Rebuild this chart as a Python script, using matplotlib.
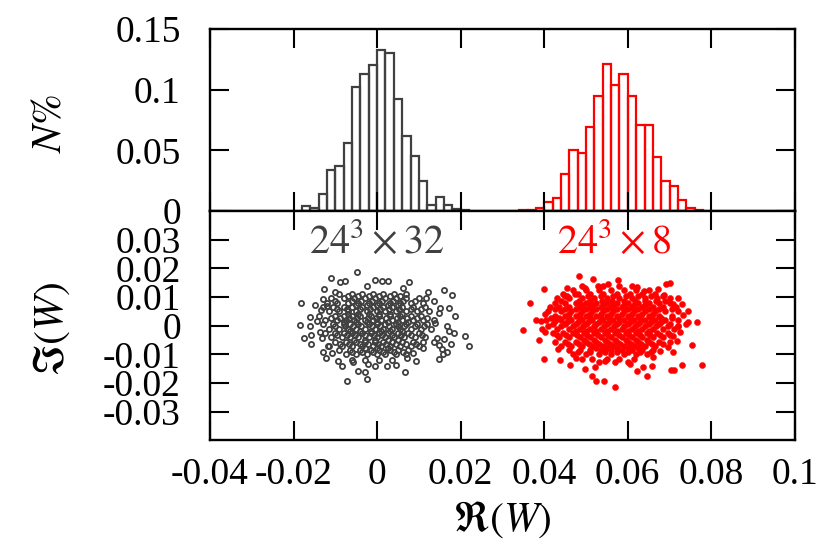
import numpy as np
import matplotlib
matplotlib.use('Agg')
import matplotlib.pyplot as plt

plt.rcParams['font.family'] = 'serif'
plt.rcParams['font.serif'] = ['Liberation Serif', 'DejaVu Serif']
plt.rcParams['mathtext.fontset'] = 'stix'
plt.rcParams['axes.unicode_minus'] = False

GRAY = '#404040'
RED = '#ff0000'

# histogram N% per bin (bin width 0.002), left edges
bin_width = 0.002
gray_left = [-0.018, -0.016, -0.014, -0.012, -0.010, -0.008, -0.006, -0.004, -0.002, 0.000,
             0.002, 0.004, 0.006, 0.008, 0.010, 0.012, 0.014, 0.016, 0.018, 0.020]
gray_counts = [0.0038, 0.0027, 0.0137, 0.0335, 0.0368, 0.056, 0.102, 0.113, 0.120, 0.1325,
               0.130, 0.092, 0.0615, 0.0456, 0.0245, 0.0047, 0.0115, 0.0047, 0.0019, 0.0011]
red_left = [0.034, 0.036, 0.038, 0.040, 0.042, 0.044, 0.046, 0.048, 0.050, 0.052, 0.054,
            0.056, 0.058, 0.060, 0.062, 0.064, 0.066, 0.068, 0.070, 0.072, 0.074, 0.076]
red_counts = [0.0006, 0.0006, 0.0027, 0.0074, 0.011, 0.0308, 0.050, 0.048, 0.069, 0.095, 0.1215,
              0.104, 0.1127, 0.095, 0.071, 0.0706, 0.0445, 0.0244, 0.0203, 0.0088, 0.0022, 0.0011]

# scatter of W in units of 1e-3, dense core rows: (Im, [Re, ...])
gray_core_rows = [
    (11.0, [-9, -6, -3.5, -1, 1.5, 4, 7]),
    (10.2, [-7, -4.5, -2, 0.5, 3, 5.5]),
    (9.5, [-11, -8, -5.5, -3, -0.5, 2, 4.5, 7, 10]),
    (8.8, [-10, -6, -3.8, -1.2, 1.2, 3.8, 6.2, 9]),
    (8.0, [-12, -9.5, -7, -4.5, -2, 0.5, 3, 5.5, 8, 11]),
    (7.2, [-5, -2.5, 0, 2.5, 5]),
    (6.5, [-13, -10.5, -8, -6, -3.5, -1, 1.5, 3.5, 6, 8.5, 11.5]),
    (5.8, [-9.5, -7.2, -4.2, -1.8, 0.8, 2.8, 5.2, 8, 10.5]),
    (5.0, [-11.5, -9, -7, -5, -2.5, 0, 2, 4.5, 7, 9.5, 12.5]),
    (4.2, [-7, -4.5, -2, 0.5, 3, 6]),
    (3.5, [-14, -10, -8, -6, -4, -1.5, 0.5, 3, 5.5, 8, 10.5]),
    (2.8, [-11, -8.8, -6.8, -4.8, -2.2, -0.2, 2.2, 4.8, 7.2, 9.5, 12]),
    (2.0, [-12.5, -9.5, -7.5, -5.5, -3, -1, 1, 3.5, 6, 8.5, 11, 13.5]),
    (1.2, [-8, -5, -2.5, 0, 2.5, 5, 7.5]),
    (0.5, [-13, -10.5, -8, -6.5, -4.5, -2, 0, 2, 4.5, 7, 9.5, 12]),
    (-0.2, [-10, -7.8, -5.8, -3.8, -1.2, 0.8, 2.8, 5, 6.5, 9, 11.2]),
    (-1.0, [-11.5, -9, -7, -5, -3, -0.5, 1.5, 3.5, 5.5, 8, 10.5, 13]),
    (-1.8, [-6.5, -4, -1.5, 1, 3, 6]),
    (-2.5, [-12.5, -10, -8, -6, -3.5, -1.5, 0.5, 2.5, 5, 7.5, 10]),
    (-3.2, [-9.5, -7.2, -5.2, -2.8, -0.8, 1.2, 3.5, 5.8, 8.2, 10.8]),
    (-4.0, [-11, -8.5, -6.5, -4.5, -2, 0, 2, 4, 6.5, 9, 11.5]),
    (-4.8, [-5.5, -3, -0.5, 2.5, 5]),
    (-5.5, [-10, -7.5, -5, -3, -0.5, 1.5, 3.5, 6, 8.5, 11]),
    (-6.2, [-8.8, -6.8, -4.2, -2.2, 0.2, 2.2, 4.6, 7, 9.4]),
    (-7.0, [-11.5, -8.5, -6, -3.5, -1, 1, 3, 5.5, 8, 10]),
    (-7.8, [-3, 0, 2.5]),
    (-8.5, [-9, -6.5, -4, -1.5, 0.5, 3, 5, 7.5]),
    (-9.2, [-6, -3.5, -1, 1.5, 4, 6.2]),
    (-10.0, [-7.5, -5, -2.5, 0, 2, 4.5, 7]),
    (-12.0, [-6, -3, 0.5, 3.5]),
]
# sparse outer points (Re, Im), units of 1e-3
gray_outer = [
    (-18.2, 7.8), (-16.0, 3.2), (-18.5, 0.2), (-16.0, 0.0), (-17.5, -4.1), (-15.8, -6.4),
    (-14.3, 1.5), (-13.4, 5.6), (-13.0, 9.3), (-12.8, 12.8), (-11.0, 16.8), (-8.9, 15.1),
    (-7.7, 15.7), (-4.9, 18.6), (-7.2, -19.2), (-13.0, -9.1), (-12.3, -11.4), (-10.8, -9.5),
    (-9.3, -12.2), (-8.3, -13.9), (-4.5, -15.7), (-2.9, -16.3), (-2.5, -18.6), (-5.7, -12.8),
    (-2.1, -13.3), (-0.5, -13.9), (1.1, 15.7), (-0.5, 16.0), (-2.5, 13.9), (-10.0, 11.6),
    (-12.0, 7.0), (-13.6, -2.3), (-13.2, -4.4), (-11.7, -7.0), (-14.9, 7.4), (-15.8, -3.1),
    (2.7, 15.7), (7.7, 15.1), (6.3, 13.0), (12.3, 11.6), (16.1, 12.5), (17.9, 10.8),
    (11.7, 9.5), (13.6, 8.5), (15.1, 6.2), (17.1, 6.2), (18.7, 3.5), (14.7, 4.6),
    (13.9, 1.1), (16.7, 0.0), (17.1, -1.7), (18.4, -2.7), (21.1, -3.7), (22.1, -7.2),
    (14.4, -4.1), (15.9, -4.6), (13.5, -5.8), (14.7, -6.6), (17.6, -6.4), (15.5, -8.1),
    (16.7, -9.3), (15.7, -9.9), (14.9, -11.6), (11.1, -7.6), (8.7, -9.5), (7.1, -11.4),
    (9.3, -12.2), (6.7, -16.3), (4.5, -13.6), (2.3, -13.9),
]

red_core_rows = [
    (13.8, [49, 54, 58, 61]),
    (12.5, [47, 50, 53, 56, 59, 62, 65]),
    (11.0, [44.5, 48, 51, 54, 57.5, 60.5, 63.5, 66.5]),
    (10.2, [45.5, 50.5, 53.5, 56.5, 59.5, 62.5, 65.5, 68.5]),
    (9.5, [43, 46, 49, 52, 55, 58, 61, 64, 67, 70]),
    (8.8, [44, 48.2, 51, 53.8, 56.2, 59, 61.8, 64.2, 66.8, 69]),
    (8.0, [42.5, 45, 47.5, 50, 52.5, 55, 57.5, 60, 62.5, 65, 67.5, 70]),
    (7.2, [49, 51.5, 54, 56.5, 59, 61.5, 64]),
    (6.5, [43.5, 46, 48.5, 51, 53.5, 56, 58.5, 61, 63.5, 66, 68.5, 71.5]),
    (5.8, [42.5, 45, 47.5, 50, 52.5, 55, 57.5, 60, 62.5, 65, 67.5, 70.5]),
    (5.0, [41, 44, 46.5, 49, 51.5, 54, 56.5, 59, 61.5, 64, 66.5, 69, 72]),
    (4.2, [46, 48.5, 51, 53.5, 56, 58.5, 61, 63.5, 66]),
    (3.5, [42.5, 45, 47.5, 50, 52.5, 55, 57.5, 60, 62.5, 65, 67.5, 70.5]),
    (2.8, [41.5, 43.5, 46, 48.5, 51, 53.5, 55.5, 58, 60.5, 63, 65.5, 68, 70.5]),
    (2.0, [40.5, 44, 46.5, 49, 51.5, 54, 56.5, 59, 61.5, 64, 66.5, 69, 72]),
    (1.2, [45.5, 48, 50.5, 53, 55.5, 58, 60.5, 63, 65.5, 68]),
    (0.5, [42, 45, 47.5, 50, 52.5, 55, 57.5, 60, 62.5, 65, 67.5, 70, 74]),
    (-0.2, [41, 44, 46.8, 49.2, 51.8, 54.2, 56.8, 59.2, 61.8, 64.2, 66.8, 69.5, 72]),
    (-1.0, [39.5, 43, 46, 48.5, 51, 53.5, 56, 58.5, 61, 63.5, 66, 68.5, 71]),
    (-1.8, [47.5, 50, 52.5, 55, 57.5, 60, 62.5, 65]),
    (-2.5, [42, 44.5, 47, 49.5, 52, 54.5, 57, 59.5, 62, 64.5, 67, 69.5]),
    (-3.2, [43, 45.2, 47.8, 50.2, 52.8, 55.2, 57.8, 60.2, 62.8, 65.2, 67.8, 70]),
    (-4.0, [43.5, 46, 48.5, 51, 53.5, 56, 58.5, 61, 63.5, 66, 68.5]),
    (-4.8, [49.5, 52, 54.5, 57, 59.5, 62, 64.5]),
    (-5.5, [45, 47.5, 50, 52.5, 55, 57.5, 60, 62.5, 65, 67.5, 70]),
    (-6.2, [45.8, 48.2, 50.8, 53.2, 55.8, 58.2, 60.8, 63.2, 65.8, 68.5]),
    (-7.0, [44, 46.5, 49, 51.5, 54, 56.5, 59, 61.5, 64, 66.5]),
    (-7.8, [52.5, 55, 57.5, 60, 62.5]),
    (-8.5, [46, 48.5, 51, 53.5, 56, 58.5, 61, 63.5, 66]),
    (-9.2, [48, 51, 54.5, 57.5, 60, 63, 65.5]),
    (-10.0, [47, 50, 53, 56, 59, 62, 64.5]),
    (-11.5, [51.5, 55, 58, 61.5]),
    (-12.8, [53, 57, 60]),
]
red_outer = [
    (48.2, 17.2), (51.6, 16.3), (45.5, 13.3), (40.0, 12.8), (36.6, 8.1), (41.4, 6.4),
    (40.2, 4.1), (38.0, 2.1), (39.2, 1.7), (35.0, -1.5), (40.2, -2.3), (38.8, -5.0),
    (42.6, -5.6), (40.0, -11.6), (43.8, -11.8), (46.2, -13.6), (47.6, -11.3), (49.8, -15.1),
    (51.4, -17.4), (52.3, -19.4), (54.4, -19.4), (52.2, -14.5), (45.0, 10.5), (47.4, 11.0),
    (49.8, 13.3), (52.9, 13.9), (55.3, 14.5), (42.6, 1.7), (43.4, -8.1), (49.0, -11.6),
    (54.5, -12.2), (57.7, 16.0), (62.1, 13.6), (63.9, 12.2), (67.2, 12.8), (69.1, 14.5),
    (70.1, 14.9), (68.7, 10.7), (72.1, 9.7), (72.9, 7.6), (70.7, 7.6), (74.3, 5.2),
    (73.3, 3.7), (76.5, 1.4), (74.5, 1.4), (72.1, 0.0), (72.5, -2.1), (70.9, -3.5),
    (71.7, -5.2), (75.3, -6.6), (69.7, -7.3), (70.9, -9.3), (67.7, -8.7), (72.9, -13.6),
    (70.3, -15.3), (71.1, -15.3), (77.8, -13.6), (65.7, -13.9), (63.7, -14.5), (64.5, -17.4),
    (62.1, -15.7), (60.5, -13.3), (56.9, -21.5), (66.1, -11.0),
]

x_ticks = [-0.04, -0.02, 0, 0.02, 0.04, 0.06, 0.08, 0.1]
x_labels = ['-0.04', '-0.02', '0', '0.02', '0.04', '0.06', '0.08', '0.1']
top_ticks = [0, 0.05, 0.1, 0.15]
top_labels = ['0', '0.05', '0.1', '0.15']
bot_ticks = [-0.03, -0.02, -0.01, 0, 0.01, 0.02, 0.03]
bot_labels = ['-0.03', '-0.02', '-0.01', '0', '0.01', '0.02', '0.03']


def flatten(rows, outer):
    re = [x for y, xs in rows for x in xs] + [p[0] for p in outer]
    im = [y for y, xs in rows for x in xs] + [p[1] for p in outer]
    return np.array(re) * 1e-3, np.array(im) * 1e-3


def style(ax):
    for s in ax.spines.values():
        s.set_linewidth(1.7)
    ax.tick_params(which='both', direction='in', length=14, width=1.5,
                   top=True, right=True, labelsize=27)
    ax.tick_params(axis='y', pad=21)
    ax.tick_params(axis='x', pad=12)
    ax.set_xlim(-0.04, 0.1)
    ax.set_xticks(x_ticks)


fig = plt.figure(figsize=(8.17, 5.44), dpi=100)
ax_top = fig.add_axes([0.257, 0.6121, 0.716, 0.3346])
ax_bot = fig.add_axes([0.257, 0.1903, 0.716, 0.4218])

# top: histograms
ax_top.bar(gray_left, gray_counts, width=bin_width, align='edge', fill=False,
           edgecolor=GRAY, linewidth=1.6)
ax_top.bar(red_left, red_counts, width=bin_width, align='edge', fill=False,
           edgecolor=RED, linewidth=1.6)
style(ax_top)
ax_top.set_ylim(0, 0.15)
ax_top.set_yticks(top_ticks)
ax_top.set_yticklabels(top_labels)
ax_top.tick_params(axis='x', labelbottom=False)

# bottom: scatter
gx, gy = flatten(gray_core_rows, gray_outer)
rx, ry = flatten(red_core_rows, red_outer)
ax_bot.plot(gx, gy, 'o', ls='none', ms=3.7, mfc='none', mec=GRAY, mew=1.3)
ax_bot.plot(rx, ry, 'o', ls='none', ms=4.4, mfc=RED, mec=RED, mew=0.3)
style(ax_bot)
ax_bot.set_ylim(-0.04, 0.04)
ax_bot.set_yticks(bot_ticks)
ax_bot.set_yticklabels(bot_labels)
ax_bot.set_xticklabels(x_labels)

ax_bot.text(0.0, 0.0254, r'$24^3\times32$', color=GRAY, fontsize=29,
            ha='center', va='baseline')
ax_bot.text(0.0566, 0.0254, r'$24^3\times8$', color=RED, fontsize=29,
            ha='center', va='baseline')

fig.text(50 / 817, 1 - 123 / 544, r'$N\%$', rotation=90, fontsize=30,
         ha='center', va='center')
fig.text(52 / 817, 1 - 329 / 544, r'$\Im(W)$', rotation=90, fontsize=30,
         ha='center', va='center')
fig.text(502 / 817, 1 - 520 / 544, r'$\Re(W)$', fontsize=30,
         ha='center', va='center')

fig.savefig('out.png', dpi=100)
